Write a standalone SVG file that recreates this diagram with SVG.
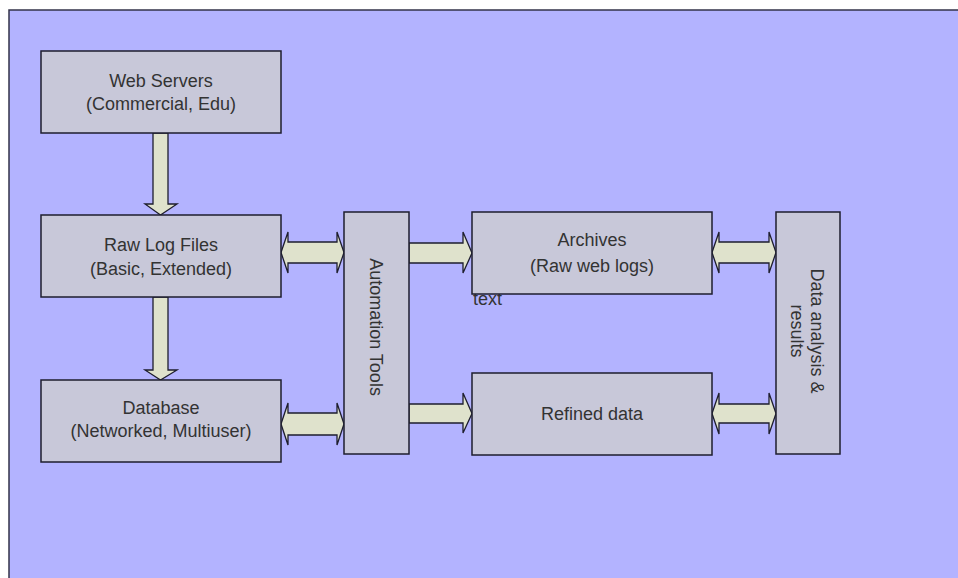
<svg xmlns="http://www.w3.org/2000/svg" width="958" height="578" viewBox="0 0 958 578">
<style>
  .box { fill: #c8c8d9; stroke: #1e1e2e; stroke-width: 1.5; }
  .arr { fill: #dfe2cc; stroke: #1e1e2e; stroke-width: 1.3; stroke-linejoin: miter; }
  .t { font-family: "Liberation Sans", Arial, sans-serif; font-size: 18px; fill: #333333; text-anchor: middle; }
</style>
<rect x="0" y="0" width="958" height="578" fill="#ffffff"/>
<rect x="9" y="10" width="960" height="580" fill="#b3b3ff" stroke="#33334a" stroke-width="1.5"/>

<text x="473" y="305" class="t" style="text-anchor:start">text</text>

<g id="connectors">
  <!-- Web Servers -> Raw Log Files -->
  <path class="arr" d="M153,133 L168,133 L168,204 L177,204 L160.5,215 L145,204 L153,204 Z"/>
  <!-- Raw Log Files -> Database -->
  <path class="arr" d="M153,297 L168,297 L168,370 L177,370 L160.5,380 L145,370 L153,370 Z"/>
  <!-- Raw Log Files <-> Automation -->
  <path class="arr" d="M281,252.5 L288,232 L288,242 L337,242 L337,232 L344,252.5 L337,273 L337,263 L288,263 L288,273 Z"/>
  <!-- Database <-> Automation -->
  <path class="arr" d="M281,424 L288,403 L288,413 L337,413 L337,403 L344,424 L337,445 L337,435 L288,435 L288,445 Z"/>
  <!-- Automation -> Archives -->
  <path class="arr" d="M409,243 L463,243 L463,232 L472,253 L463,273 L463,263 L409,263 Z"/>
  <!-- Automation -> Refined -->
  <path class="arr" d="M409,404 L463,404 L463,393 L472,413.5 L463,433 L463,423 L409,423 Z"/>
  <!-- Archives <-> Data analysis -->
  <path class="arr" d="M712,252.5 L719,232 L719,242 L769,242 L769,232 L776,252.5 L769,273 L769,263 L719,263 L719,273 Z"/>
  <!-- Refined <-> Data analysis -->
  <path class="arr" d="M712,413.5 L719,393 L719,404 L769,404 L769,393 L776,413.5 L769,434 L769,423 L719,423 L719,434 Z"/>
</g>

<g id="web-servers">
  <rect class="box" x="41" y="51" width="240" height="82"/>
  <text class="t" x="161" y="87">Web Servers</text>
  <text class="t" x="161" y="110">(Commercial, Edu)</text>
</g>
<g id="raw-log-files">
  <rect class="box" x="41" y="215" width="240" height="82"/>
  <text class="t" x="161" y="251">Raw Log Files</text>
  <text class="t" x="161" y="275">(Basic, Extended)</text>
</g>
<g id="database">
  <rect class="box" x="41" y="380" width="240" height="82"/>
  <text class="t" x="161" y="414">Database</text>
  <text class="t" x="161" y="437">(Networked, Multiuser)</text>
</g>
<g id="automation-tools">
  <rect class="box" x="344" y="212" width="65" height="242"/>
  <text class="t" transform="translate(370,327) rotate(90)">Automation Tools</text>
</g>
<g id="archives">
  <rect class="box" x="472" y="212" width="240" height="82"/>
  <text class="t" x="592" y="246">Archives</text>
  <text class="t" x="592" y="272">(Raw web logs)</text>
</g>
<g id="refined-data">
  <rect class="box" x="472" y="373" width="240" height="82"/>
  <text class="t" x="592" y="420">Refined data</text>
</g>
<g id="data-analysis">
  <rect class="box" x="776" y="212" width="64" height="242"/>
  <text class="t" transform="translate(811,331) rotate(90)">Data analysis &amp;</text>
  <text class="t" transform="translate(791,331) rotate(90)">results</text>
</g>
</svg>
